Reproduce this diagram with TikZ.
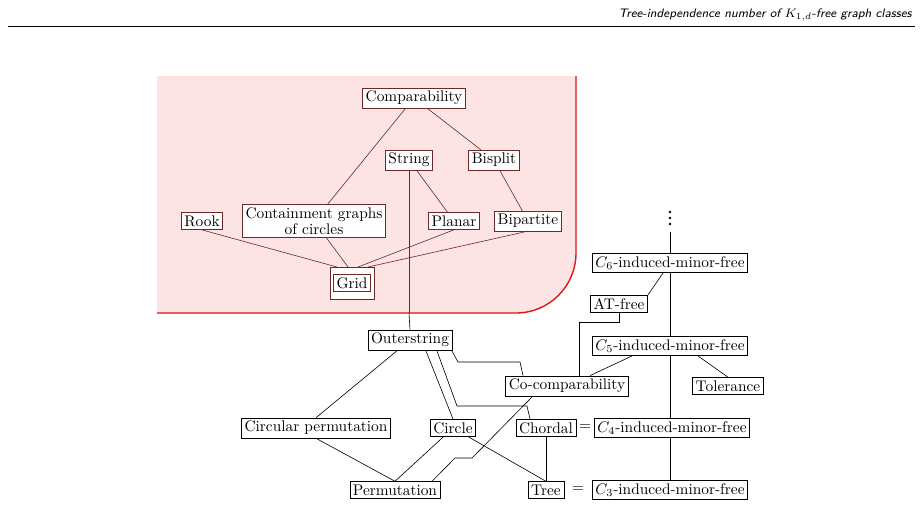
\documentclass[tikz,border=0pt]{standalone}
\usepackage{amsmath,amssymb}
\usepackage{tikz}
\usetikzlibrary{positioning}
\definecolor{boxpink}{RGB}{253,228,228}
\definecolor{edgered}{RGB}{225,20,20}
\definecolor{innerline}{RGB}{110,40,40}
\tikzset{
  cls/.style={draw,fill=white,inner sep=2pt,line width=0.4pt,align=center},
  rcls/.style={cls,draw=innerline},
  link/.style={line width=0.4pt},
  rlink/.style={link,color=innerline},
}
\begin{document}
\begin{tikzpicture}[x=0.65pt,y=-0.65pt]
\useasboundingbox (0,0) rectangle (921,506);

% header
\node[anchor=south east,inner sep=0pt,font=\footnotesize\sffamily\itshape] (head) at (912,22) {Tree-independence number of $K_{1,d}$-free graph classes};
\draw[line width=0.5pt] (8,26) -- (915,26);

%Shape: pink region
\fill[boxpink] (157,76) -- (576,76) -- (576,253) arc (0:90:60) -- (157,313) -- cycle;
\draw[edgered,line width=0.9pt] (576,76) -- (576,253) arc (0:90:60) -- (157,313);

% Text Node
\node[rcls] (comp) at (414,98) {Comparability};
\node[rcls] (string) at (409,160) {String};
\node[rcls] (bisplit) at (494,160) {Bisplit};
\node[rcls] (rook) at (202,221) {Rook};
\node[rcls] (cont) at (314,221) {Containment graphs\\[-2pt]of circles};
\node[rcls] (planar) at (454,221) {Planar};
\node[rcls] (bip) at (528,221) {Bipartite};
\draw[innerline,fill=white] (330,267) rectangle (374,299);
\node[rcls] (grid) at (352,283) {Grid};

\node[cls] (outer) at (410,340) {Outerstring};
\node[cls] (cocomp) at (567,386) {Co-comparability};
\node[cls] (circperm) at (316,428) {Circular permutation};
\node[cls] (circle) at (453,428) {Circle};
\node[cls] (chordal) at (546,428) {Chordal};
\node[cls] (perm) at (395,490) {Permutation};
\node[cls] (tree) at (546,490) {Tree};
\node[cls] (csix) at (670,263) {$C_6$-induced-minor-free};
\node[cls] (atfree) at (619,304) {AT-free};
\node[cls] (cfive) at (670,346) {$C_5$-induced-minor-free};
\node[cls] (tol) at (728,386) {Tolerance};
\node[cls] (cfour) at (672,428) {$C_4$-induced-minor-free};
\node[cls] (cthree) at (670,490) {$C_3$-induced-minor-free};
\node (eqa) at (585,428) {$=$};
\node (eqb) at (578,490) {$=$};
\coordinate (dots) at (670,226);
\foreach \dy in {0,6,12} \fill (670,212+\dy) circle (1.3);

%Straight Lines: pink region
\draw[rlink] (comp) -- (cont);
\draw[rlink] (comp) -- (bisplit);
\draw[rlink] (string) -- (planar);
\draw[rlink] (bisplit) -- (bip);
\draw[rlink] (rook.south) -- (337,267);
\draw[rlink] (cont) -- (348,267);
\draw[rlink] (planar.south) -- (358,267);
\draw[rlink] (bip.south) -- (368,267);
\draw[rlink] (string.south) -- (string.south |- 313,313);
\draw[link] (string.south |- 313,313) -- (outer.north);

%Straight Lines: lower part
\draw[link] (outer) -- (circperm.north);
\draw[link] ([xshift=-0.5pt]outer.south east) -- (458,362) -- (520,362) -- (cocomp.north -| 523,0);
\draw[link] (437,351) -- (457,406) -- (527,406) -- (chordal.north -| 530,0);
\draw[link] (426,351) -- (circle.north);
\draw[link] (circperm.south) -- (perm.north);
\draw[link] (circle) -- (perm.north);
\draw[link] (circle) -- (tree.north);
\draw[link] (533,396) -- (472,458) -- (455,458) -- (perm.north -| 432,0);
\draw[link] (chordal) -- (tree);
\draw[link] (csix) -- (atfree.north east);
\draw[link] (atfree.south) -- (619,322) -- (579,322) -- (cocomp.north -| 579,0);
\draw[link] (cfive.south west) ++(40,0) -- (cocomp.north -| 590,0);
\draw[link] (cfive.south) ++(28,0) -- (tol.north);
\draw[link] (dots) ++(0,6) -- (csix.north);
\draw[link] (csix) -- (cfive);
\draw[link] (cfive) -- (cfour.north -| 670,0);
\draw[link] (cfour.south -| 670,0) -- (cthree);

\end{tikzpicture}
\end{document}
